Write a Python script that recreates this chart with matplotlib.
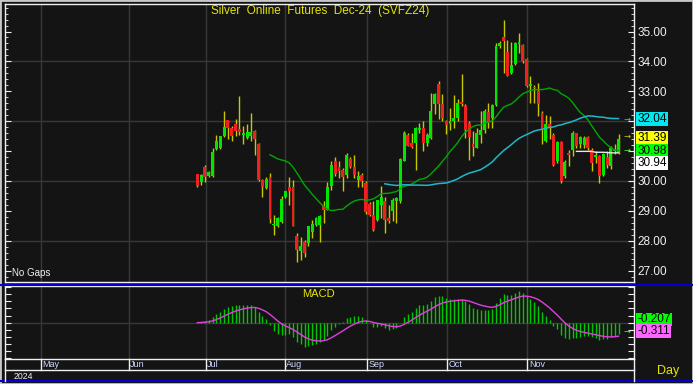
import numpy as np
import pandas as pd
import matplotlib
matplotlib.use("Agg")
import matplotlib.pyplot as plt
from matplotlib.lines import Line2D
from matplotlib.patches import Rectangle
from matplotlib.ticker import MultipleLocator, FuncFormatter

plt.rcParams["font.family"] = ["Liberation Sans", "DejaVu Sans"]

W, H = 693, 384

# daily OHLC, Dec-24 silver, late June to end of November 2024
opens = [30.23, 29.95, 30.46, 30.15, 30.15, 31.07, 31.10, 31.50, 32.03, 31.78,
         31.91, 31.74, 31.55, 31.44, 31.50, 31.68, 31.24, 30.04, 29.77, 30.13,
         28.52, 28.48, 28.62, 29.46, 29.80, 29.80, 28.17, 27.67, 27.97, 27.92,
         28.29, 28.53, 28.53, 29.15, 29.04, 29.82, 30.66, 30.46, 30.36, 30.21,
         30.75, 30.47, 30.02, 30.19, 29.93, 29.24, 28.87, 28.70, 29.20, 29.32,
         28.76, 28.99, 29.32, 29.32, 30.66, 31.55, 31.27, 31.27, 31.69, 31.78,
         31.27, 31.44, 32.56, 33.23, 32.56, 32.02, 31.89, 32.00, 32.09, 32.65,
         32.50, 31.94, 31.22, 31.11, 31.55, 31.72, 32.31, 32.11, 32.54, 34.52,
         34.80, 34.33, 33.62, 33.90, 34.58, 34.54, 34.07, 33.17, 33.15, 33.01,
         32.28, 31.33, 31.89, 31.55, 30.66, 31.30, 30.16, 30.94, 31.05, 31.59,
         31.22, 31.20, 31.46, 31.05, 30.80, 30.85, 30.21, 30.80, 30.49, 31.00,
         30.94]
highs = [30.23, 30.23, 30.54, 30.35, 31.10, 31.53, 31.52, 32.34, 32.05, 31.83,
         32.08, 32.84, 31.83, 31.89, 32.28, 31.72, 31.27, 30.06, 30.12, 30.27,
         28.86, 28.80, 29.50, 29.67, 30.12, 30.02, 28.25, 28.14, 28.03, 28.51,
         28.70, 28.81, 28.87, 29.32, 29.97, 30.66, 30.79, 30.66, 30.44, 30.92,
         30.79, 30.88, 30.32, 30.25, 29.99, 29.30, 29.32, 29.37, 29.82, 29.48,
         29.20, 29.43, 29.46, 30.77, 31.67, 31.61, 31.61, 31.80, 31.94, 32.02,
         31.60, 32.93, 32.95, 33.34, 32.90, 32.05, 32.45, 32.87, 32.73, 33.57,
         32.56, 32.00, 31.66, 31.78, 32.34, 32.40, 32.62, 32.58, 34.60, 34.69,
         35.38, 34.70, 34.65, 34.64, 34.96, 34.58, 34.10, 33.51, 33.20, 33.29,
         32.34, 32.20, 32.17, 31.60, 31.33, 31.33, 30.71, 31.05, 31.67, 31.61,
         31.50, 31.50, 31.50, 31.10, 31.00, 30.88, 30.94, 31.00, 31.16, 31.25,
         31.58]
lows = [29.80, 29.85, 29.95, 30.13, 30.13, 31.05, 31.08, 31.48, 31.41, 31.33,
        31.50, 31.55, 31.22, 31.39, 31.33, 30.88, 30.00, 29.48, 29.74, 28.59,
        28.20, 28.45, 28.60, 29.44, 29.20, 28.48, 27.30, 27.36, 27.47, 27.81,
        28.09, 28.48, 27.97, 28.59, 29.04, 29.71, 30.16, 30.10, 29.65, 30.10,
        30.44, 30.10, 29.80, 29.80, 28.90, 28.82, 28.31, 28.65, 28.76, 28.25,
        28.59, 28.65, 28.59, 29.26, 30.66, 31.16, 31.10, 30.38, 31.61, 30.99,
        31.16, 31.39, 32.25, 32.06, 32.00, 31.58, 31.72, 31.78, 32.00, 32.50,
        31.44, 30.71, 30.83, 31.10, 31.27, 31.60, 31.78, 31.78, 32.50, 34.46,
        33.62, 33.50, 33.59, 33.88, 34.29, 33.95, 33.15, 32.62, 32.60, 32.17,
        31.22, 31.30, 31.39, 30.50, 30.60, 29.93, 30.10, 30.49, 30.83, 31.10,
        31.10, 31.10, 31.05, 30.32, 30.60, 29.93, 30.15, 30.45, 30.40, 30.90,
        30.90]
closes = [29.82, 30.21, 30.13, 30.29, 30.96, 31.33, 31.50, 31.80, 31.78, 31.52,
          31.67, 31.63, 31.60, 31.63, 31.63, 31.39, 30.02, 29.80, 30.07, 28.72,
          28.55, 28.75, 29.40, 29.65, 29.65, 28.50, 27.70, 27.81, 27.58, 28.48,
          28.57, 28.76, 28.84, 29.04, 29.80, 30.55, 30.23, 30.32, 30.13, 30.88,
          30.47, 30.21, 30.18, 29.99, 28.95, 28.87, 28.37, 29.35, 29.46, 28.70,
          28.65, 29.35, 29.43, 30.75, 31.61, 31.16, 31.13, 31.78, 31.78, 31.27,
          31.55, 32.34, 32.90, 32.56, 32.11, 31.87, 32.02, 32.11, 32.62, 32.56,
          31.72, 31.47, 31.13, 31.61, 31.72, 32.34, 31.94, 32.54, 34.52, 34.63,
          34.69, 33.51, 33.88, 34.63, 34.66, 34.01, 33.17, 33.25, 33.12, 32.59,
          31.72, 31.89, 31.78, 30.55, 31.30, 29.99, 30.62, 30.87, 31.61, 31.16,
          31.46, 31.44, 31.10, 30.60, 30.86, 30.15, 30.90, 30.55, 31.10, 31.05,
          31.39]

# flat white reference line over the last bars
white_line = [30.99, 30.99, 30.99, 30.99, 30.99, 30.96, 30.96, 30.96, 30.95, 30.94,
              30.94, 30.94]

month_names = ["May", "Jun", "Jul", "Aug", "Sep", "Oct", "Nov"]
month_pos = [-40.9, -17.9, 2.2, 22.8, 44.2, 65.2, 86.2]

price_labels = ["32.04", "31.39", "30.98", "30.94"]
price_label_colors = ["#00e8f0", "#ffff00", "#00ff00", "#ffffff"]
hidden_ticks = [31, 32]  # covered by the last-value boxes
macd_labels = ["-0.207", "-0.311"]
macd_label_colors = ["#00ff00", "#ff66ff"]

BG = "#141414"
GRID = "#383838"
FG = "#f0f0f0"
YEL = "#e6e600"


def fx(px):
    return px / W


def fy(py):
    return 1 - py / H


def price_fmt(v, pos):
    if any(abs(v - h) < 1e-6 for h in hidden_ticks):
        return ""
    return f"{v:.2f}"


s = pd.Series(closes)
x = np.arange(len(closes))
sma20 = s.rolling(20).mean()
sma50 = s.rolling(50).mean()
macd = s.ewm(span=12, adjust=False).mean() - s.ewm(span=26, adjust=False).mean()
signal = macd.ewm(span=9, adjust=False).mean()

fig = plt.figure(figsize=(W / 100, H / 100), dpi=100, facecolor=BG)
xlim = (-50.2, 113.9)

ax1 = fig.add_axes([fx(5), fy(282), fx(633.5) - fx(5), (282 - 4) / H], facecolor=BG)
ax2 = fig.add_axes([fx(5), fy(359), fx(633.5) - fx(5), (359 - 286) / H], facecolor=BG)

for ax in (ax1, ax2):
    ax.set_xlim(*xlim)
    ax.set_xticks([])
    for sp in ax.spines.values():
        sp.set_color(FG)
        sp.set_linewidth(1)
    for mp in month_pos:
        ax.axvline(mp, color=GRID, lw=1, zorder=0)
    ax.tick_params(axis="y", which="both", direction="in", colors=FG,
                   left=True, right=True, labelleft=False, labelright=False)
    ax.tick_params(axis="y", which="major", length=4)
    ax.tick_params(axis="y", which="minor", length=2)

# ---- price panel ----
ax1.set_ylim(26.62, 35.92)
ax1.yaxis.set_major_locator(MultipleLocator(1))
ax1.yaxis.set_minor_locator(MultipleLocator(0.2))
ax1.yaxis.set_major_formatter(FuncFormatter(price_fmt))
ax1.tick_params(axis="y", labelright=True, labelsize=8.5, pad=3)
for yv in (28, 30, 32, 34):
    ax1.axhline(yv, color=GRID, lw=1, zorder=0)

o = np.array(opens)
c = np.array(closes)
up = c >= o
body_col = np.where(up, "#00e600", "#f02020")
ax1.vlines(x, lows, highs, color="#c8c800", lw=1, zorder=2)
ax1.bar(x, np.maximum(np.abs(c - o), 0.04), bottom=np.minimum(o, c), width=0.76,
        color=body_col, zorder=3, linewidth=0)

ax1.plot(x, sma20, color="#00a800", lw=1, zorder=4)
ax1.plot(x, sma50, color="#20b8c8", lw=1.1, zorder=4)
wx = x[len(x) - len(white_line):]
ax1.plot(wx, white_line, color="#e8e8e8", lw=1, zorder=4)

label_y = [32.07, 31.45, 31.0, 30.59]
arrow_y = [32.08, 31.48, 31.03]
ytr = ax1.get_yaxis_transform()
for txt, col, yv in zip(price_labels, price_label_colors, label_y):
    ax1.text(1.006, yv, txt, transform=ytr, ha="left", va="center", fontsize=8.5,
             color="black", clip_on=False,
             bbox=dict(boxstyle="square,pad=0.08", fc=col, ec="none"))
for col, yv in zip(["#00d8e8", "#c8c800", "#40ff40"], arrow_y):
    ax1.text(0.99, yv, "→", transform=ytr, ha="center", va="center", fontsize=6,
             color=col, family="DejaVu Sans")

# ---- MACD panel ----
ax2.set_ylim(-1.02, 1.03)
ax2.yaxis.set_major_locator(MultipleLocator(0.2))
ax2.axhline(0, color=GRID, lw=1, zorder=0)
ax2.vlines(x, 0, macd, color="#00c800", lw=1, zorder=2)
ax2.plot(x, signal, color="#e040e0", lw=1, zorder=3)
ytr2 = ax2.get_yaxis_transform()
for txt, col, yv in zip(macd_labels, macd_label_colors, [0.09, -0.245]):
    ax2.text(1.006, yv, txt, transform=ytr2, ha="left", va="center", fontsize=8.5,
             color="black", clip_on=False,
             bbox=dict(boxstyle="square,pad=0.08", fc=col, ec="none"))
ax2.text(0.99, -0.24, "→", transform=ytr2, ha="center", va="center", fontsize=6,
         color="#40ff40", family="DejaVu Sans")

# date strip below the MACD panel
strip = -11 / 73
xtr = ax2.get_xaxis_transform()
ax2.plot([0, 1], [strip, strip], transform=ax2.transAxes, color=FG, lw=1, clip_on=False)
for mp, name in zip(month_pos, month_names):
    ax2.plot([mp, mp], [strip, 0], transform=xtr, color=FG, lw=1, clip_on=False)
    ax2.text(mp + 0.4, -0.082, name, transform=xtr, ha="left", va="center",
             fontsize=6.5, color="#d0d8ff", clip_on=False)

fig.text(fx(14), fy(376.5), "2024", ha="left", va="center", fontsize=6.3, color=FG)
fig.text(fx(668.5), fy(371), "Day", ha="center", va="center", fontsize=9, color=YEL)
fig.text(fx(12), fy(273), "No Gaps", ha="left", va="center", fontsize=7, color=FG)
fig.text(fx(320), fy(11), "Silver  Online  Futures  Dec-24  (SVFZ24)", ha="center",
         va="center", fontsize=8.5, color=YEL)
fig.text(fx(318), fy(294), "MACD", ha="center", va="center", fontsize=8, color=YEL)

# panel separators and frame
for py in (285, 381):
    fig.add_artist(Line2D([0, 1], [fy(py), fy(py)], transform=fig.transFigure,
                          color="#0000d0", lw=1.5))
fig.add_artist(Line2D([fx(633.5), fx(633.5)], [fy(359), fy(381)], transform=fig.transFigure,
                      color=FG, lw=1))
fig.add_artist(Line2D([fx(5), fx(5)], [fy(359), fy(381)], transform=fig.transFigure,
                      color=FG, lw=1))
fig.add_artist(Rectangle((0, 0), 1, 1, transform=fig.transFigure, fill=False,
                         ec="#c8c8c8", lw=2))

fig.savefig("out.png", dpi=100, facecolor=BG)
